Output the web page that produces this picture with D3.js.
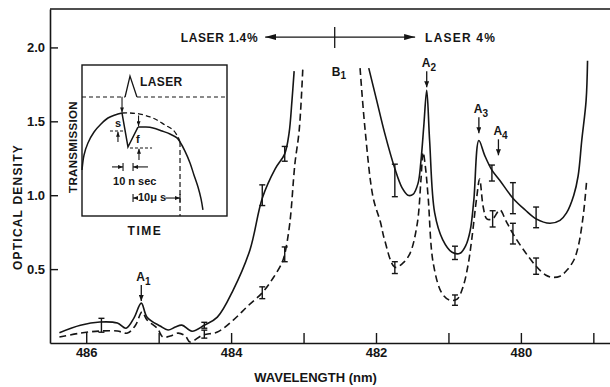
<!DOCTYPE html>
<html>
<head>
<meta charset="utf-8">
<script src="https://cdn.jsdelivr.net/npm/d3@7"></script>
<style>
  body { margin: 0; background: #fff; }
  svg { display: block; }
  text { font-family: "Liberation Sans", Arial, sans-serif; font-weight: bold; fill: #151515; }
</style>
</head>
<body>
<svg id="chart" width="610" height="387"></svg>
<script>
// axis ticks
const xTicks = [486, 485, 484, 483, 482, 481, 480, 479];
const xLabels = [486, 484, 482, 480];
const yTicks = [0.5, 1.0, 1.5, 2.0];

// optical density vs wavelength, laser 1.4% side  [nm, OD]
const solidLow = [
  [486.37, 0.07], [486.08, 0.12], [485.81, 0.142], [485.57, 0.135], [485.45, 0.10],
  [485.34, 0.17], [485.24, 0.27], [485.16, 0.175], [484.98, 0.115], [484.87, 0.088],
  [484.77, 0.108], [484.68, 0.121], [484.54, 0.08], [484.37, 0.12], [484.19, 0.175],
  [483.97, 0.36], [483.74, 0.63], [483.57, 0.98], [483.39, 1.18], [483.26, 1.28],
  [483.20, 1.42], [483.16, 1.64], [483.13, 1.84]
];
const dashedLow = [
  [486.37, 0.04], [486.08, 0.067], [485.81, 0.081], [485.57, 0.081], [485.43, 0.067],
  [485.32, 0.12], [485.23, 0.21], [485.16, 0.155], [485.02, 0.10], [484.94, 0.04],
  [484.84, 0.047], [484.73, 0.067], [484.63, 0.047], [484.57, 0.007], [484.39, 0.054],
  [484.19, 0.074], [483.97, 0.155], [483.77, 0.25], [483.57, 0.34], [483.42, 0.44],
  [483.30, 0.54], [483.26, 0.60], [483.19, 0.81], [483.12, 1.21], [483.06, 1.44],
  [483.01, 1.86]
];

// laser 4% side
const solidHigh = [
  [482.10, 1.86], [481.99, 1.64], [481.88, 1.42], [481.74, 1.18], [481.64, 1.05],
  [481.56, 1.00], [481.49, 1.005], [481.42, 1.08], [481.38, 1.23], [481.34, 1.47],
  [481.30, 1.71], [481.26, 1.37], [481.19, 0.88], [481.08, 0.70], [480.95, 0.614],
  [480.84, 0.607], [480.76, 0.66], [480.70, 0.76], [480.65, 0.965], [480.58, 1.37],
  [480.50, 1.27], [480.40, 1.17], [480.29, 1.10], [480.11, 0.98], [479.94, 0.90],
  [479.79, 0.84], [479.60, 0.81], [479.46, 0.83], [479.37, 0.88], [479.27, 1.00],
  [479.21, 1.13], [479.16, 1.37], [479.10, 1.64], [479.08, 1.91]
];
const dashedHigh = [
  [482.22, 1.86], [482.15, 1.44], [482.04, 0.985], [481.94, 0.82], [481.88, 0.695],
  [481.74, 0.513], [481.63, 0.54], [481.53, 0.607], [481.43, 0.81], [481.38, 1.10],
  [481.35, 1.29], [481.32, 1.20], [481.28, 0.985], [481.21, 0.54], [481.09, 0.337],
  [480.98, 0.29], [480.88, 0.297], [480.80, 0.378], [480.73, 0.526], [480.68, 0.695],
  [480.61, 0.985], [480.57, 1.11], [480.52, 0.92], [480.47, 0.84], [480.39, 0.84],
  [480.29, 0.90], [480.21, 0.83], [480.11, 0.74], [479.94, 0.614], [479.79, 0.52],
  [479.66, 0.46], [479.57, 0.445], [479.46, 0.452], [479.37, 0.49], [479.27, 0.56],
  [479.21, 0.65], [479.14, 0.86], [479.09, 1.11]
];

// error bars [nm, OD, half-height]
const errSolid = [
  [485.79, 0.12, 0.047], [484.37, 0.12, 0.02], [483.57, 1.00, 0.07], [483.26, 1.28, 0.05],
  [481.74, 1.10, 0.11], [480.91, 0.61, 0.045], [480.40, 1.15, 0.054], [480.11, 0.98, 0.105],
  [479.79, 0.85, 0.07]
];
const errDashed = [
  [484.37, 0.06, 0.027], [483.57, 0.34, 0.04], [483.26, 0.60, 0.05], [481.74, 0.51, 0.04],
  [480.91, 0.29, 0.035], [480.39, 0.84, 0.055], [480.11, 0.74, 0.07], [479.79, 0.52, 0.055]
];

// peak markers: label, subscript, nm, OD at arrow tip
const peakNames = ['A', 'A', 'A', 'A'];
const peakSubs = ['1', '2', '3', '4'];
const peakWl = [485.24, 481.30, 480.58, 480.31];
const peakTip = [0.285, 1.73, 1.42, 1.27];

// laser split annotation
const splitWl = 482.57;
const splitArrow = [483.53, 481.46];
const splitOd = 2.07;

// inset (schematic, 0-100 units)
const insetSolidRise = [
  [0, 30.5], [1.4, 40.4], [4.1, 48.3], [8.3, 55.6], [13.1, 60.9], [17.9, 64.9],
  [22.8, 66.9], [27.6, 68.2]
];
const insetSolidDip = [[27.6, 68.2], [31.7, 45.7], [38.6, 58.9]];
const insetSolidFall = [
  [38.6, 58.9], [44.1, 58.9], [49.0, 58.3], [55.2, 56.3], [60.7, 54.3], [65.5, 51.7],
  [67.6, 49.0], [71.0, 43.0], [74.5, 35.1], [77.2, 27.2], [80.0, 19.2], [82.1, 11.3],
  [83.4, 4.0]
];
const insetDashed = [
  [27.6, 68.2], [33.1, 68.2], [40.0, 67.5], [46.9, 65.6], [51.7, 63.6], [57.2, 60.3],
  [62.8, 57.0], [66.2, 52.3], [67.6, 49.0]
];
const insetLaser = [[29.7, 78.8], [33.1, 92.7], [37.9, 78.8]];
const insetBase = 78.8;

const svg = d3.select('#chart');
const W = 610, H = 387;
const margin = { top: 9, right: 0, bottom: 44, left: 50 };

const x = d3.scaleLinear().domain([486.5, 478.77]).range([margin.left, W - margin.right]);
const y = d3.scaleLinear().domain([0, 2.26]).range([H - margin.bottom, margin.top]);

// arrow heads
const defs = svg.append('defs');
function marker(id, w, h) {
  defs.append('marker')
    .attr('id', id)
    .attr('viewBox', `0 0 ${w} ${h}`)
    .attr('refX', w).attr('refY', h / 2)
    .attr('markerWidth', w).attr('markerHeight', h)
    .attr('markerUnits', 'userSpaceOnUse')
    .attr('orient', 'auto')
    .append('path')
    .attr('d', `M0,0L${w},${h / 2}L0,${h}Z`)
    .attr('fill', '#151515');
}
marker('big', 11, 6);
marker('mid', 6, 5);
marker('small', 5, 4);

// axes
const xAxis = svg.append('g')
  .attr('transform', `translate(0,${y(0)})`)
  .call(d3.axisBottom(x).tickValues(xTicks).tickSize(-10).tickSizeOuter(0).tickPadding(5)
    .tickFormat(d => xLabels.includes(d) ? d : ''));
const yAxis = svg.append('g')
  .attr('transform', `translate(${margin.left},0)`)
  .call(d3.axisLeft(y).tickValues(yTicks).tickSize(-8).tickSizeOuter(0).tickPadding(5)
    .tickFormat(d3.format('.1f')));

[xAxis, yAxis].forEach(g => {
  g.select('.domain').attr('stroke', '#151515').attr('stroke-width', 1.6);
  g.selectAll('.tick line').attr('stroke', '#151515').attr('stroke-width', 1.4);
  g.selectAll('.tick text').attr('font-size', 13).attr('font-family', '"Liberation Sans", Arial, sans-serif')
    .attr('font-weight', 'bold').attr('fill', '#151515');
});

// top frame line
svg.append('line')
  .attr('x1', margin.left).attr('x2', W)
  .attr('y1', y(2.26)).attr('y2', y(2.26))
  .attr('stroke', '#151515').attr('stroke-width', 1.4);

// axis titles
svg.append('text')
  .attr('x', (x(486) + x(480)) / 2 + 12).attr('y', 382)
  .attr('text-anchor', 'middle').attr('font-size', 13)
  .text('WAVELENGTH (nm)');
svg.append('text')
  .attr('transform', `translate(22,${y(0.92)}) rotate(-90)`)
  .attr('text-anchor', 'middle').attr('font-size', 12).attr('letter-spacing', 1.2)
  .text('OPTICAL  DENSITY');

// curves
const line = d3.line().x(d => x(d[0])).y(d => y(d[1])).curve(d3.curveCatmullRom.alpha(0.5));
const curves = [
  { data: solidLow, dash: null }, { data: dashedLow, dash: '7,4' },
  { data: solidHigh, dash: null }, { data: dashedHigh, dash: '7,4' }
];
svg.selectAll('.curve').data(curves).enter().append('path')
  .attr('class', 'curve')
  .attr('d', d => line(d.data))
  .attr('fill', 'none')
  .attr('stroke', '#151515')
  .attr('stroke-width', 1.6)
  .attr('stroke-dasharray', d => d.dash);

// error bars
const errs = errSolid.concat(errDashed);
const eb = svg.selectAll('.err').data(errs).enter().append('g').attr('class', 'err')
  .attr('stroke', '#151515').attr('stroke-width', 1.4);
eb.append('line')
  .attr('x1', d => x(d[0])).attr('x2', d => x(d[0]))
  .attr('y1', d => y(d[1] - d[2])).attr('y2', d => y(d[1] + d[2]));
eb.append('line')
  .attr('x1', d => x(d[0]) - 3).attr('x2', d => x(d[0]) + 3)
  .attr('y1', d => y(d[1] - d[2])).attr('y2', d => y(d[1] - d[2]));
eb.append('line')
  .attr('x1', d => x(d[0]) - 3).attr('x2', d => x(d[0]) + 3)
  .attr('y1', d => y(d[1] + d[2])).attr('y2', d => y(d[1] + d[2]));

// peak labels with arrows
peakWl.forEach((wl, i) => {
  const px = x(wl), tip = y(peakTip[i]);
  svg.append('line')
    .attr('x1', px).attr('x2', px).attr('y1', tip - 16).attr('y2', tip)
    .attr('stroke', '#151515').attr('stroke-width', 1.3)
    .attr('marker-end', 'url(#mid)');
  const t = svg.append('text').attr('x', px - 5).attr('y', tip - 20).attr('font-size', 12);
  t.append('tspan').text(peakNames[i]);
  t.append('tspan').attr('dy', 4).attr('font-size', 10).text(peakSubs[i]);
});

// laser split annotation
svg.append('line')
  .attr('x1', x(splitWl)).attr('x2', x(splitArrow[0]))
  .attr('y1', y(splitOd)).attr('y2', y(splitOd))
  .attr('stroke', '#151515').attr('stroke-width', 1.3).attr('marker-end', 'url(#big)');
svg.append('line')
  .attr('x1', x(splitWl)).attr('x2', x(splitArrow[1]))
  .attr('y1', y(splitOd)).attr('y2', y(splitOd))
  .attr('stroke', '#151515').attr('stroke-width', 1.3).attr('marker-end', 'url(#big)');
svg.append('line')
  .attr('x1', x(splitWl)).attr('x2', x(splitWl))
  .attr('y1', y(splitOd) - 10).attr('y2', y(splitOd) + 11)
  .attr('stroke', '#151515').attr('stroke-width', 1.3);
svg.append('text')
  .attr('x', x(splitArrow[0]) - 7).attr('y', y(splitOd) + 5)
  .attr('text-anchor', 'end').attr('font-size', 12).attr('letter-spacing', 0.6)
  .text('LASER 1.4%');
svg.append('text')
  .attr('x', x(splitArrow[1]) + 10).attr('y', y(splitOd) + 5)
  .attr('font-size', 12).attr('letter-spacing', 1.2)
  .text('LASER  4%');
const bt = svg.append('text').attr('x', x(splitWl) - 3).attr('y', y(1.81)).attr('font-size', 12);
bt.append('tspan').text('B');
bt.append('tspan').attr('dy', 3).attr('font-size', 10).text('1');

// ---- inset ----
const box = { x: 82, y: 65, w: 145, h: 151 };
const inset = svg.append('g').attr('transform', `translate(${box.x},${box.y})`);
const ix = d3.scaleLinear().domain([0, 100]).range([0, box.w]);
const iy = d3.scaleLinear().domain([0, 100]).range([box.h, 0]);

inset.append('rect')
  .attr('width', box.w).attr('height', box.h)
  .attr('fill', 'none').attr('stroke', '#151515').attr('stroke-width', 1.4);

const iline = d3.line().x(d => ix(d[0])).y(d => iy(d[1]));
const ismooth = d3.line().x(d => ix(d[0])).y(d => iy(d[1])).curve(d3.curveCatmullRom.alpha(0.5));

inset.append('line')
  .attr('x1', 0).attr('x2', ix(insetLaser[0][0])).attr('y1', iy(insetBase)).attr('y2', iy(insetBase))
  .attr('stroke', '#151515').attr('stroke-width', 1.2).attr('stroke-dasharray', '4,3');
inset.append('line')
  .attr('x1', ix(insetLaser[2][0])).attr('x2', box.w).attr('y1', iy(insetBase)).attr('y2', iy(insetBase))
  .attr('stroke', '#151515').attr('stroke-width', 1.2).attr('stroke-dasharray', '4,3');
inset.append('path').attr('d', iline(insetLaser))
  .attr('fill', 'none').attr('stroke', '#151515').attr('stroke-width', 1.3);

inset.append('path').attr('d', ismooth(insetSolidRise))
  .attr('fill', 'none').attr('stroke', '#151515').attr('stroke-width', 1.5);
inset.append('path').attr('d', iline(insetSolidDip))
  .attr('fill', 'none').attr('stroke', '#151515').attr('stroke-width', 1.5);
inset.append('path').attr('d', ismooth(insetSolidFall))
  .attr('fill', 'none').attr('stroke', '#151515').attr('stroke-width', 1.5);
inset.append('path').attr('d', ismooth(insetDashed))
  .attr('fill', 'none').attr('stroke', '#151515').attr('stroke-width', 1.3).attr('stroke-dasharray', '5,3');

// vertical dashed marker at end of 10 us
inset.append('line')
  .attr('x1', ix(67.6)).attr('x2', ix(67.6)).attr('y1', iy(49)).attr('y2', iy(0))
  .attr('stroke', '#151515').attr('stroke-width', 1.2).attr('stroke-dasharray', '5,3');

function iarrow(x1, y1, x2, y2) {
  inset.append('line')
    .attr('x1', ix(x1)).attr('y1', iy(y1)).attr('x2', ix(x2)).attr('y2', iy(y2))
    .attr('stroke', '#151515').attr('stroke-width', 1.1).attr('marker-end', 'url(#small)');
}
function idash(x1, x2, v) {
  inset.append('line')
    .attr('x1', ix(x1)).attr('x2', ix(x2)).attr('y1', iy(v)).attr('y2', iy(v))
    .attr('stroke', '#151515').attr('stroke-width', 1.1).attr('stroke-dasharray', '3,2');
}
function ibar(u, v) {
  inset.append('line')
    .attr('x1', ix(u)).attr('x2', ix(u)).attr('y1', iy(v) - 4).attr('y2', iy(v) + 4)
    .attr('stroke', '#151515').attr('stroke-width', 1.1);
}

iarrow(27.6, 79, 27.6, 68.6);
iarrow(39.0, 66.5, 39.0, 59.5);
idash(19.3, 29.7, 56.3);
iarrow(24.8, 49, 24.8, 55.8);
idash(33.1, 48.3, 45.0);
iarrow(39.3, 37.1, 39.3, 44.6);

// 10 n sec
iarrow(20.7, 32.5, 28.3, 32.5); ibar(28.3, 32.5);
iarrow(45.5, 32.5, 35.2, 32.5); ibar(35.2, 32.5);
// 10 us
iarrow(38.6, 11.9, 35.2, 11.9); ibar(35.2, 11.9);
iarrow(57.5, 11.9, 67.6, 11.9); ibar(67.6, 11.9);

inset.append('text').attr('x', ix(40)).attr('y', iy(86.1)).attr('font-size', 12).attr('letter-spacing', 0.4).text('LASER');
inset.append('text').attr('x', ix(22.8)).attr('y', iy(58.9)).attr('font-size', 11).text('s');
inset.append('text').attr('x', ix(37.2)).attr('y', iy(48.3)).attr('font-size', 11).text('f');
inset.append('text').attr('x', ix(21.4)).attr('y', iy(20.5)).attr('font-size', 11).text('10 n sec');
inset.append('text').attr('x', ix(38.6)).attr('y', iy(9.9)).attr('font-size', 11).text('10\u03bc s');
inset.append('text')
  .attr('transform', `translate(${-5},${iy(45.7)}) rotate(-90)`)
  .attr('text-anchor', 'middle').attr('font-size', 11.5).attr('letter-spacing', 0.3)
  .text('TRANSMISSION');
inset.append('text')
  .attr('x', ix(43.4)).attr('y', box.h + 19)
  .attr('text-anchor', 'middle').attr('font-size', 12).attr('letter-spacing', 1.5)
  .text('TIME');
</script>
</body>
</html>
